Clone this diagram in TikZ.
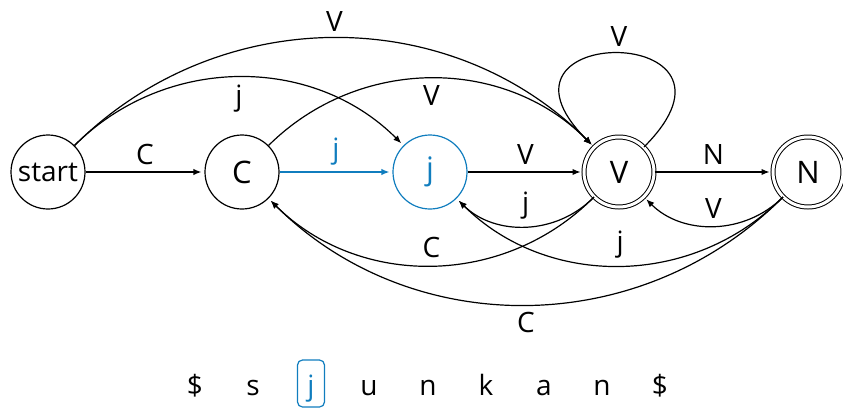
\documentclass[tikz,border=0pt]{standalone}
\usepackage{fontspec}
\setmainfont{Open Sans}
\usetikzlibrary{arrows.meta}
\definecolor{jblue}{RGB}{16,125,190}
\tikzset{
  state/.style={circle, draw, line width=0.6pt, minimum size=37pt, inner sep=1pt,
    font=\fontsize{15.5}{18}\selectfont},
  accept/.style={state, double, double distance=1.5pt, line width=0.5pt, minimum size=35pt},
  arc/.style={line width=0.6pt, -{Latex[length=4pt, width=3.2pt]}, shorten >=1.5pt},
  tok/.style={anchor=base},
  tokbox/.style={tok, draw=jblue, text=jblue, line width=0.6pt, rounded corners=2.5pt,
    text height=15.5pt, text depth=4pt, inner ysep=2pt, minimum width=13.5pt}
}
\begin{document}
\begin{tikzpicture}[x=0.5pt, y=-0.5pt, font=\fontsize{14}{17}\selectfont, bend angle=45]
  \useasboundingbox (0,0) rectangle (843,408);

  % States
  \node[state, font=\fontsize{14}{17}\selectfont] (start) at (48, 172) {start};
  \node[state] (C) at (242, 172) {C};
  \node[state, draw=jblue, text=jblue] (j) at (430, 172) {j};
  \node[accept] (V) at (619, 172) {V};
  \node[accept] (N) at (808, 172) {N};

  % Straight transitions
  \draw[arc] (start) to node[above] {C} (C);
  \draw[arc, jblue] (C) to node[above] {j} (j);
  \draw[arc] (j) to node[above] {V} (V);
  \draw[arc] (V) to node[above] {N} (N);

  % Transitions above
  \draw[arc] (start) to[bend left] node[above] {V} (V);
  \draw[arc] (start) to[bend left] node[below] {j} (j);
  \draw[arc] (C) to[bend left] node[below] {V} (V);
  \draw[arc] (V) to[loop, out=45, in=135, looseness=9] node[above] {V} (V);

  % Transitions below
  \draw[arc] (V) to[bend left] node[above] {j} (j);
  \draw[arc] (N) to[bend left] node[above] {V} (V);
  \draw[arc] (V) to[bend left] node[above] {C} (C);
  \draw[arc] (N) to[bend left] node[above] {j} (j);
  \draw[arc] (N) to[bend left] node[below] {C} (C);

  % Input word
  \node[tok] (w1) at (195, 395) {\$};
  \node[tok] (w2) at (253, 395) {s};
  \node[tokbox] (w3) at (311, 395) {j};
  \node[tok] (w4) at (369, 395) {u};
  \node[tok] (w5) at (428, 395) {n};
  \node[tok] (w6) at (486, 395) {k};
  \node[tok] (w7) at (544, 395) {a};
  \node[tok] (w8) at (602, 395) {n};
  \node[tok] (w9) at (660, 395) {\$};
\end{tikzpicture}
\end{document}
